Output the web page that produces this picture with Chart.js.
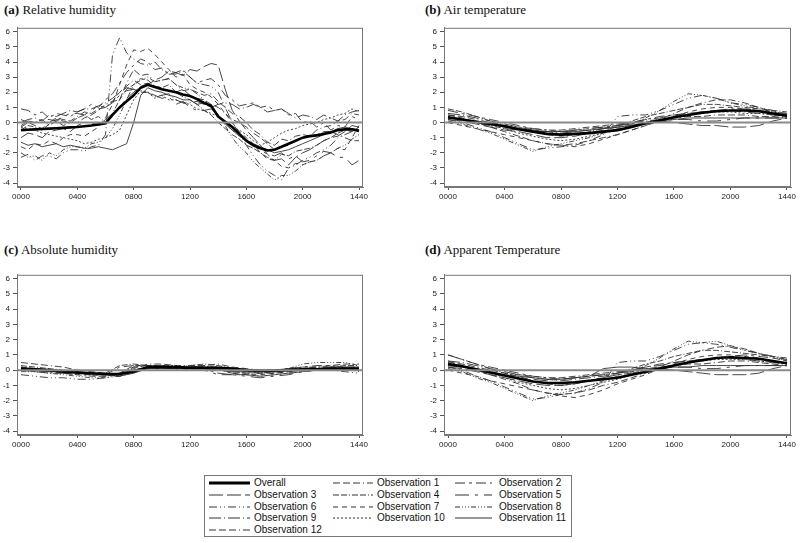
<!DOCTYPE html>
<html><head><meta charset="utf-8">
<script src="https://cdn.jsdelivr.net/npm/chart.js@4.4.0/dist/chart.umd.min.js"></script>
<style>
body{margin:0;background:#fff;width:800px;height:543px;position:relative;overflow:hidden;font-family:"Liberation Sans",Arial,sans-serif}
.ttl{position:absolute;font-family:"Liberation Serif","Times New Roman",serif;font-size:13px;line-height:14px;color:#111;white-space:nowrap}
canvas{position:absolute}
#legend{position:absolute;left:204px;top:475px;width:366px;height:60px;border:1px solid #777}
.li{position:absolute;font-size:10px;line-height:11px;color:#111;white-space:nowrap}
.ls{position:absolute}
</style></head><body>
<div class="ttl" style="left:4px;top:3px"><b>(a)</b> Relative humidity</div>
<div class="ttl" style="left:425px;top:3px"><b>(b)</b> Air temperature</div>
<div class="ttl" style="left:4px;top:243px"><b>(c)</b> Absolute humidity</div>
<div class="ttl" style="left:425px;top:243px"><b>(d)</b> Apparent Temperature</div>
<canvas id="pa" width="400" height="187" style="left:0;top:20px"></canvas>
<canvas id="pb" width="400" height="187" style="left:400px;top:20px"></canvas>
<canvas id="pc" width="400" height="188" style="left:0;top:267px"></canvas>
<canvas id="pd" width="400" height="188" style="left:400px;top:267px"></canvas>
<div id="legend"></div>
<script>
// ---- axes ----
const minutes = [0,60,120,180,240,300,360,420,480,540,600,660,720,780,840,900,960,1020,1080,1140,1200,1260,1320,1380,1440];
const halfHourMinutes = [0,30,60,90,120,150,180,210,240,270,300,330,360,390,420,450,480,510,540,570,600,630,660,690,720,750,780,810,840,870,900,930,960,990,1020,1050,1080,1110,1140,1170,1200,1230,1260,1290,1320,1350,1380,1410,1440];
const xTickValues = [0,240,480,720,960,1200,1440];
const xTickLabels = ['0000','0400','0800','1200','1600','2000','1440'];
const yTickValues = [-4,-3,-2,-1,0,1,2,3,4,5,6];
const seriesNames = ['Overall','Observation 1','Observation 2','Observation 3','Observation 4','Observation 5','Observation 6','Observation 7','Observation 8','Observation 9','Observation 10','Observation 11','Observation 12'];
const seriesDashes = [[],[7,3,7,3,7,3,1,3],[10,4,3,4],[14,4],[6,2,6,2,1,2],[14,6,3,6],[8,3,1,3,1,3],[5,4],[5,2,1,2,1,2,1,2],[12,3,1,3],[2,2],[],[7,3,7,3,7,3,1,3]];

// ---- (a) Relative humidity (half-hourly) ----
const rhOverall = [-0.5,-0.48,-0.45,-0.43,-0.4,-0.38,-0.35,-0.32,-0.3,-0.25,-0.2,-0.12,-0.05,0.5,1.0,1.4,1.8,2.3,2.5,2.35,2.2,2.1,2.0,1.85,1.75,1.55,1.3,1.1,0.4,0.05,-0.3,-0.75,-1.2,-1.5,-1.7,-1.85,-1.8,-1.6,-1.4,-1.2,-1.0,-0.9,-0.85,-0.75,-0.65,-0.5,-0.45,-0.45,-0.55];
const rhObs1  = [-0.3,0.0,-0.2,-0.4,0.0,0.3,0.2,0.1,0.4,0.7,0.6,0.9,1.0,1.4,1.5,2.6,3.5,3.1,3.2,2.7,2.8,2.9,2.5,2.1,2.2,2.0,1.8,1.9,1.4,1.0,0.6,0.4,0.0,-0.5,-0.8,-1.3,-1.5,-1.1,-1.2,-0.9,-0.8,-0.9,-0.5,-0.3,-0.2,0.1,0.2,0.6,0.5];
const rhObs2  = [0.9,0.8,0.5,0.7,0.3,0.6,0.5,0.4,0.7,0.9,1.2,1.0,1.5,1.9,2.6,3.3,3.8,4.2,4.0,3.5,3.6,3.2,3.3,3.5,3.0,2.6,2.8,2.9,2.5,1.8,1.5,1.1,1.2,1.3,1.0,1.1,0.8,0.9,0.5,0.6,0.0,0.1,-0.3,0.0,-0.5,-0.2,-0.3,0.4,0.2];
const rhObs3  = [-1.0,-0.7,-0.8,-1.0,-0.6,-0.5,-0.4,-0.6,-0.2,0.0,0.0,-0.2,0.2,0.6,1.0,1.6,2.0,2.4,2.5,2.8,3.0,3.4,3.3,3.1,3.5,3.4,3.7,3.9,3.8,2.2,0.8,0.1,-0.5,-1.0,-1.5,-2.1,-2.5,-2.4,-2.8,-2.3,-2.0,-1.8,-1.5,-1.2,-1.0,-0.9,-0.6,-0.2,-0.3];
const rhObs4  = [-0.5,-0.2,-0.3,-0.5,-0.1,0.2,0.1,0.0,0.3,0.5,0.2,0.4,0.0,0.6,1.5,2.2,2.5,2.9,2.8,2.4,2.3,2.5,2.0,1.7,1.5,1.2,0.8,0.5,0.0,-0.4,-0.8,-1.1,-1.5,-1.7,-2.0,-2.3,-2.5,-2.1,-2.2,-1.9,-1.8,-1.7,-1.5,-1.2,-1.0,-0.7,-0.5,-0.6,-0.3];
const rhObs5  = [-0.2,0.1,0.0,0.2,0.2,0.1,0.4,0.6,0.6,0.5,0.8,1.1,1.0,1.3,1.8,2.1,2.2,2.0,2.0,1.8,1.6,1.7,1.2,1.4,1.0,0.8,0.8,0.9,0.5,0.0,-0.5,-0.8,-1.2,-1.5,-1.8,-2.1,-2.2,-2.0,-2.4,-2.2,-2.6,-2.5,-2.2,-1.9,-2.0,-2.3,-2.3,-2.8,-2.5];
const rhObs6  = [-2.3,-2.1,-2.5,-2.2,-2.2,-2.4,-2.0,-1.8,-1.8,-1.9,-1.6,-1.5,-0.8,4.5,5.6,4.6,4.2,3.9,3.8,4.0,3.5,3.2,3.2,3.4,3.0,2.6,2.5,2.4,2.0,1.0,0.0,-0.7,-1.5,-2.2,-2.8,-3.2,-3.5,-3.8,-3.0,-2.8,-2.5,-2.3,-2.0,-1.8,-1.5,-1.0,-0.8,-0.6,-0.5];
const rhObs7  = [-1.6,-1.8,-1.4,-1.5,-1.2,-1.4,-1.0,-0.8,-0.8,-0.9,-0.6,-0.3,0.3,1.2,2.5,3.8,4.8,4.7,4.9,4.5,4.0,3.5,3.0,3.2,2.5,2.2,2.0,1.7,1.2,0.6,0.0,-0.6,-1.0,-1.4,-2.0,-2.4,-2.5,-2.9,-3.0,-2.7,-2.8,-2.6,-2.5,-2.2,-2.0,-1.7,-1.8,-1.0,-0.2];
const rhObs8  = [-2.0,-2.3,-2.2,-2.5,-2.0,-2.2,-1.8,-1.6,-1.6,-1.7,-1.4,-1.3,-1.0,-0.4,0.5,1.5,2.5,2.8,3.0,2.7,2.8,2.9,2.5,2.3,2.2,1.9,1.5,1.0,0.5,-0.2,-1.0,-1.6,-2.0,-2.6,-3.0,-3.4,-3.8,-3.5,-3.5,-3.2,-2.8,-2.6,-2.5,-2.2,-2.0,-1.7,-1.5,-1.1,-0.8];
const rhObs9  = [0.0,0.2,0.3,0.1,0.5,0.4,0.6,0.8,0.7,0.9,0.9,1.1,1.3,1.6,2.0,2.3,2.2,2.0,2.0,1.7,1.8,1.9,1.5,1.3,1.3,1.4,1.2,1.0,1.2,1.3,1.2,0.9,1.0,1.2,1.0,0.7,0.8,0.9,0.6,0.3,0.5,0.4,0.2,0.5,0.3,0.1,0.5,0.7,0.8];
const rhObs10 = [-0.3,-0.4,-0.5,-0.7,-0.8,-0.9,-1.0,-1.1,-1.2,-1.4,-1.3,-1.1,-1.0,-0.8,-0.5,0.5,1.5,2.1,2.0,1.6,1.8,1.5,1.5,1.3,1.2,0.9,0.8,0.6,0.4,0.0,-0.3,-0.5,-0.8,-1.2,-1.5,-1.3,-1.0,-0.7,-0.5,-0.4,-0.2,-0.1,0.0,0.2,0.3,0.5,0.6,0.9,0.7];
const rhObs11 = [-1.3,-1.5,-1.4,-1.6,-1.5,-1.4,-1.6,-1.5,-1.6,-1.7,-1.7,-1.6,-1.7,-1.8,-1.6,-1.4,0.0,1.8,2.3,2.1,2.0,1.8,1.7,1.5,1.5,1.2,1.3,1.0,0.5,-0.1,-0.5,-0.9,-1.2,-1.4,-1.6,-1.8,-2.0,-1.9,-1.8,-1.6,-1.4,-1.2,-1.0,-0.8,-0.6,-0.4,-0.3,-0.4,-0.5];
const rhObs12 = [0.2,0.0,0.0,0.2,-0.2,0.1,-0.2,0.0,0.0,0.3,0.5,0.8,1.2,1.4,2.0,2.4,2.8,2.5,2.6,2.4,2.3,2.1,2.0,2.2,1.8,1.6,1.5,1.2,1.0,0.6,0.2,0.0,-0.3,-0.7,-1.0,-1.4,-1.8,-1.6,-1.5,-1.2,-1.0,-0.9,-0.8,-0.6,-0.6,-0.8,-1.0,-1.2,-1.2];

// ---- (b) Air temperature (hourly) ----
const atOverall = [0.35,0.2,0.05,-0.1,-0.25,-0.45,-0.6,-0.75,-0.8,-0.75,-0.7,-0.6,-0.5,-0.3,-0.05,0.15,0.35,0.5,0.65,0.75,0.8,0.8,0.75,0.6,0.45];
const atObs1  = [0.5,0.3,0.0,-0.3,-0.6,-0.9,-1.2,-1.4,-1.5,-1.4,-1.2,-1.0,-0.8,-0.5,-0.2,0.2,0.6,1.0,1.3,1.5,1.5,1.3,1.0,0.7,0.5];
const atObs2  = [0.8,0.6,0.4,0.2,0.0,-0.2,-0.4,-0.5,-0.6,-0.5,-0.4,-0.3,-0.2,0.0,0.2,0.4,0.5,0.6,0.7,0.8,0.9,0.9,0.8,0.7,0.6];
const atObs3  = [0.2,0.1,-0.1,-0.3,-0.5,-0.6,-0.8,-1.0,-1.0,-0.9,-0.7,-0.5,-0.3,-0.2,0.0,0.1,0.0,-0.1,-0.2,-0.2,-0.3,-0.3,-0.2,0.1,0.3];
const atObs4  = [0.9,0.7,0.4,0.1,-0.2,-0.4,-0.6,-0.8,-0.9,-0.8,-0.6,-0.4,-0.2,0.1,0.4,0.6,0.8,1.0,1.2,1.2,1.1,1.0,0.9,0.8,0.7];
const atObs5  = [0.3,0.2,0.0,-0.2,-0.4,-0.5,-0.6,-0.6,-0.6,-0.5,-0.4,-0.3,-0.2,-0.1,0.0,0.1,0.2,0.2,0.1,0.1,0.2,0.3,0.3,0.3,0.3];
const atObs6  = [0.2,0.0,-0.3,-0.6,-1.0,-1.4,-1.8,-1.7,-1.6,-1.5,-1.2,-0.8,0.4,0.5,0.5,0.8,1.2,1.6,1.8,1.6,1.3,1.2,1.0,0.8,0.5];
const atObs7  = [0.0,-0.2,-0.4,-0.6,-0.8,-1.0,-1.2,-1.4,-1.5,-1.6,-1.4,-1.1,-0.8,-0.5,-0.2,0.1,0.4,0.7,0.9,1.0,1.0,0.9,0.8,0.6,0.4];
const atObs8  = [0.1,-0.1,-0.4,-0.7,-1.1,-1.5,-1.9,-1.6,-1.4,-1.2,-1.0,-0.7,-0.4,-0.1,0.3,0.8,1.4,1.9,1.8,1.6,1.3,1.1,0.9,0.7,0.6];
const atObs9  = [0.6,0.5,0.3,0.1,-0.1,-0.3,-0.5,-0.6,-0.7,-0.6,-0.5,-0.4,-0.2,0.0,0.2,0.3,0.5,0.6,0.7,0.8,0.8,0.7,0.6,0.5,0.4];
const atObs10 = [0.4,0.2,0.0,-0.2,-0.4,-0.7,-0.9,-1.1,-1.2,-1.1,-0.9,-0.7,-0.5,-0.3,-0.1,0.1,0.3,0.5,0.6,0.7,0.7,0.6,0.6,0.5,0.4];
const atObs11 = [0.3,0.2,0.1,-0.1,-0.3,-0.4,-0.5,-0.6,-0.6,-0.6,-0.5,-0.4,-0.3,-0.2,0.0,0.1,0.2,0.3,0.3,0.3,0.3,0.3,0.3,0.3,0.3];
const atObs12 = [0.5,0.4,0.2,0.0,-0.2,-0.3,-0.4,-0.5,-0.5,-0.4,-0.3,-0.2,-0.1,0.0,0.1,0.2,0.3,0.4,0.4,0.5,0.5,0.5,0.4,0.4,0.3];

// ---- (c) Absolute humidity (hourly) ----
const ahOverall = [0.1,0.05,0.0,-0.1,-0.15,-0.2,-0.25,-0.25,-0.1,0.2,0.2,0.2,0.15,0.15,0.15,0.1,0.0,-0.05,-0.05,0.0,0.05,0.05,0.1,0.1,0.1];
const ahObs1  = [0.5,0.4,0.3,0.2,0.0,-0.1,-0.2,-0.3,0.1,0.4,0.4,0.3,0.3,0.3,0.4,0.2,0.1,0.0,0.0,0.1,0.2,0.2,0.3,0.4,0.4];
const ahObs2  = [0.1,0.0,-0.1,-0.2,-0.3,-0.3,-0.3,0.2,0.3,0.3,0.2,0.2,0.2,0.2,0.2,0.0,-0.1,-0.1,0.0,0.1,0.2,0.3,0.3,0.2,0.2];
const ahObs3  = [0.0,-0.1,-0.1,-0.2,-0.2,-0.3,-0.3,-0.2,0.0,0.2,0.2,0.1,0.1,0.1,-0.2,-0.3,-0.3,-0.4,-0.3,-0.2,-0.1,0.0,0.0,0.1,0.1];
const ahObs4  = [0.3,0.2,0.1,0.0,-0.1,-0.2,-0.2,0.3,0.4,0.3,0.2,0.2,0.3,0.4,0.3,0.1,-0.1,-0.2,-0.1,0.0,0.1,0.2,0.2,0.3,0.3];
const ahObs5  = [0.0,0.0,-0.1,-0.1,-0.2,-0.2,-0.3,-0.4,-0.1,0.1,0.1,0.1,0.0,0.0,-0.3,-0.3,-0.4,-0.5,-0.4,-0.3,-0.1,0.0,0.1,0.1,0.0];
const ahObs6  = [-0.3,-0.4,-0.5,-0.5,-0.6,-0.6,-0.5,-0.4,0.0,0.2,0.2,0.1,0.1,0.1,0.0,-0.2,-0.3,-0.4,-0.3,-0.2,-0.1,0.0,0.0,-0.1,-0.2];
const ahObs7  = [0.2,0.1,0.0,-0.1,-0.2,-0.3,-0.4,-0.2,0.3,0.3,0.3,0.2,0.2,0.2,0.1,-0.2,-0.3,-0.3,-0.2,-0.1,0.0,0.1,0.1,0.2,0.2];
const ahObs8  = [-0.1,-0.1,-0.2,-0.3,-0.4,-0.5,-0.5,-0.3,0.2,0.3,0.3,0.2,0.2,0.3,0.1,-0.1,-0.2,-0.2,-0.1,0.1,0.4,0.5,0.5,0.5,0.3];
const ahObs9  = [0.1,0.1,0.0,-0.1,-0.2,-0.2,-0.3,-0.3,0.0,0.2,0.2,0.2,0.2,0.2,0.1,0.0,-0.1,-0.1,0.0,0.1,0.1,0.2,0.2,0.2,0.2];
const ahObs10 = [0.2,0.1,0.0,-0.1,-0.2,-0.3,-0.3,-0.4,-0.1,0.2,0.3,0.3,0.2,0.2,0.2,0.1,0.0,0.0,0.0,0.1,0.1,0.1,0.2,0.1,0.0];
const ahObs11 = [0.1,0.0,0.0,-0.1,-0.2,-0.2,-0.3,-0.4,-0.2,0.1,0.1,0.1,0.1,0.1,0.0,-0.1,-0.1,-0.1,0.0,0.0,0.0,0.1,0.1,0.1,0.1];
const ahObs12 = [0.0,-0.1,-0.2,-0.2,-0.3,-0.4,-0.4,-0.2,0.2,0.3,0.3,0.2,0.2,0.2,0.1,-0.1,-0.2,-0.2,-0.2,-0.1,0.0,0.0,0.1,0.1,-0.1];

// ---- (d) Apparent Temperature (hourly) ----
const apOverall = [0.4,0.25,0.05,-0.15,-0.35,-0.55,-0.75,-0.85,-0.85,-0.8,-0.7,-0.6,-0.5,-0.3,-0.1,0.1,0.3,0.5,0.65,0.8,0.85,0.8,0.75,0.6,0.45];
const apObs1  = [0.6,0.3,0.0,-0.3,-0.6,-0.9,-1.3,-1.5,-1.6,-1.5,-1.3,-1.0,-0.8,-0.5,-0.2,0.2,0.6,1.0,1.3,1.5,1.6,1.4,1.1,0.8,0.6];
const apObs2  = [1.0,0.7,0.4,0.2,0.0,-0.2,-0.4,-0.5,-0.6,-0.5,-0.4,-0.3,-0.2,0.0,0.2,0.4,0.5,0.6,0.7,0.8,0.9,1.0,0.9,0.8,0.7];
const apObs3  = [0.2,0.1,-0.1,-0.3,-0.5,-0.7,-0.9,-1.0,-1.0,-0.9,-0.7,-0.5,-0.3,-0.2,0.0,0.1,0.0,-0.1,-0.2,-0.3,-0.3,-0.3,-0.2,0.1,0.3];
const apObs4  = [1.0,0.7,0.4,0.1,-0.2,-0.4,-0.7,-0.9,-1.0,-0.9,-0.7,-0.5,-0.2,0.1,0.4,0.6,0.9,1.1,1.3,1.3,1.2,1.1,1.0,0.9,0.8];
const apObs5  = [0.3,0.2,0.0,-0.2,-0.4,-0.5,-0.6,-0.7,-0.6,-0.5,-0.4,-0.3,-0.2,-0.1,0.0,0.1,0.2,0.2,0.1,0.1,0.2,0.3,0.3,0.3,0.3];
const apObs6  = [0.2,0.0,-0.4,-0.7,-1.1,-1.5,-1.9,-1.8,-1.6,-1.5,-1.2,-0.8,0.5,0.6,0.6,0.9,1.3,1.7,1.8,1.7,1.5,1.3,1.1,0.9,0.6];
const apObs7  = [0.0,-0.2,-0.4,-0.7,-0.9,-1.1,-1.3,-1.5,-1.7,-1.8,-1.6,-1.3,-0.9,-0.6,-0.3,0.1,0.4,0.7,0.9,1.0,1.0,0.9,0.8,0.6,0.4];
const apObs8  = [0.1,-0.1,-0.5,-0.8,-1.2,-1.6,-2.0,-1.7,-1.5,-1.3,-1.0,-0.7,-0.4,-0.1,0.3,0.8,1.4,1.9,1.8,1.9,1.6,1.3,1.1,0.9,0.7];
const apObs9  = [0.6,0.5,0.3,0.1,-0.1,-0.3,-0.5,-0.6,-0.7,-0.6,-0.5,-0.4,-0.2,0.0,0.2,0.3,0.5,0.6,0.7,0.8,0.8,0.7,0.6,0.5,0.4];
const apObs10 = [0.4,0.2,0.0,-0.2,-0.5,-0.8,-1.0,-1.2,-1.3,-1.2,-1.0,-0.8,-0.6,-0.3,-0.1,0.1,0.3,0.5,0.6,0.7,0.7,0.7,0.6,0.5,0.4];
const apObs11 = [0.3,0.2,0.1,-0.1,-0.3,-0.4,-0.5,-0.6,-0.6,-0.5,-0.4,0.1,0.2,0.2,0.1,0.1,0.2,0.2,0.3,0.3,0.3,0.3,0.3,0.3,0.3];
const apObs12 = [0.5,0.4,0.2,0.0,-0.2,-0.3,-0.4,-0.5,-0.5,-0.4,-0.3,-0.2,-0.1,0.0,0.1,0.2,0.3,0.4,0.4,0.5,0.6,0.6,0.5,0.4,0.3];

const panelA = [rhOverall,rhObs1,rhObs2,rhObs3,rhObs4,rhObs5,rhObs6,rhObs7,rhObs8,rhObs9,rhObs10,rhObs11,rhObs12];
const panelB = [atOverall,atObs1,atObs2,atObs3,atObs4,atObs5,atObs6,atObs7,atObs8,atObs9,atObs10,atObs11,atObs12];
const panelC = [ahOverall,ahObs1,ahObs2,ahObs3,ahObs4,ahObs5,ahObs6,ahObs7,ahObs8,ahObs9,ahObs10,ahObs11,ahObs12];
const panelD = [apOverall,apObs1,apObs2,apObs3,apObs4,apObs5,apObs6,apObs7,apObs8,apObs9,apObs10,apObs11,apObs12];

Chart.defaults.font.family = '"Liberation Sans", Arial, sans-serif';

const framePlugin = {
  id:'frame',
  afterDatasetsDraw(chart){
    const {ctx, chartArea:a, scales} = chart;
    ctx.save();
    const y0 = scales.y.getPixelForValue(0);
    ctx.strokeStyle = '#8a8a8a'; ctx.lineWidth = 2;
    ctx.beginPath(); ctx.moveTo(a.left, y0); ctx.lineTo(a.right, y0); ctx.stroke();
    ctx.strokeStyle = '#777'; ctx.lineWidth = 1;
    ctx.strokeRect(a.left+0.5, a.top+0.5, a.right-a.left-1, a.bottom-a.top-1);
    ctx.restore();
  }
};

function makePanel(id, series, xs, yWidth, rightPad){
  const datasets = series.map((vals,i)=>({
    label: seriesNames[i],
    data: vals.map((v,j)=>({x:xs[j], y:v})),
    borderColor: i===0 ? '#000' : '#333',
    borderWidth: i===0 ? 2.6 : 0.9,
    borderDash: seriesDashes[i],
    pointRadius: 0, tension: 0, fill: false,
    order: i===0 ? 0 : 1
  }));
  new Chart(document.getElementById(id), {
    type:'line',
    data:{datasets},
    options:{
      responsive:false, animation:false, events:[],
      layout:{padding:{top:6, right:rightPad, left:0, bottom:0}},
      plugins:{legend:{display:false}, tooltip:{enabled:false}},
      scales:{
        x:{type:'linear', min:-17, max:1457,
          afterBuildTicks:s=>{s.ticks = xTickValues.map(v=>({value:v}));},
          ticks:{callback:v=>xTickLabels[xTickValues.indexOf(v)], font:{size:8}, color:'#222', maxRotation:0, autoSkip:false, padding:2},
          grid:{drawOnChartArea:false, tickLength:3, tickColor:'#555', tickWidth:1},
          border:{color:'#777'},
          afterFit:s=>{s.height = 20;}
        },
        y:{type:'linear', min:-4.26, max:6.26,
          afterBuildTicks:s=>{s.ticks = yTickValues.map(v=>({value:v}));},
          ticks:{font:{size:8}, color:'#222', padding:3},
          grid:{drawOnChartArea:false, tickLength:4, tickColor:'#555', tickWidth:1},
          border:{color:'#777'},
          afterFit:s=>{s.width = yWidth;}
        }
      }
    },
    plugins:[framePlugin]
  });
}
makePanel('pa', panelA, halfHourMinutes, 17, 37);
makePanel('pb', panelB, minutes, 44, 9);
makePanel('pc', panelC, minutes, 17, 37);
makePanel('pd', panelD, minutes, 44, 9);

// ---- legend ----
const legend = document.getElementById('legend');
const colLine = [[209,250],[333,373],[455,492]];
const colText = [254,377,499];
seriesNames.forEach((name,i)=>{
  const c = i%3, r = Math.floor(i/3);
  const cy = 483 + r*11.8 - 476;
  const w = colLine[c][1]-colLine[c][0];
  const svgNS='http://www.w3.org/2000/svg';
  const svg = document.createElementNS(svgNS,'svg');
  svg.setAttribute('width', w); svg.setAttribute('height', 6);
  svg.setAttribute('class','ls');
  svg.style.left = (colLine[c][0]-205)+'px'; svg.style.top = (cy-3)+'px';
  const ln = document.createElementNS(svgNS,'line');
  ln.setAttribute('x1',0); ln.setAttribute('x2',w); ln.setAttribute('y1',3); ln.setAttribute('y2',3);
  ln.setAttribute('stroke', i===0?'#000':'#333');
  ln.setAttribute('stroke-width', i===0?3:1);
  if (seriesDashes[i].length) ln.setAttribute('stroke-dasharray', seriesDashes[i].join(' '));
  svg.appendChild(ln); legend.appendChild(svg);
  const t = document.createElement('div');
  t.className='li'; t.textContent=name;
  t.style.left=(colText[c]-205)+'px'; t.style.top=(cy-6)+'px';
  legend.appendChild(t);
});
</script>
</body></html>
